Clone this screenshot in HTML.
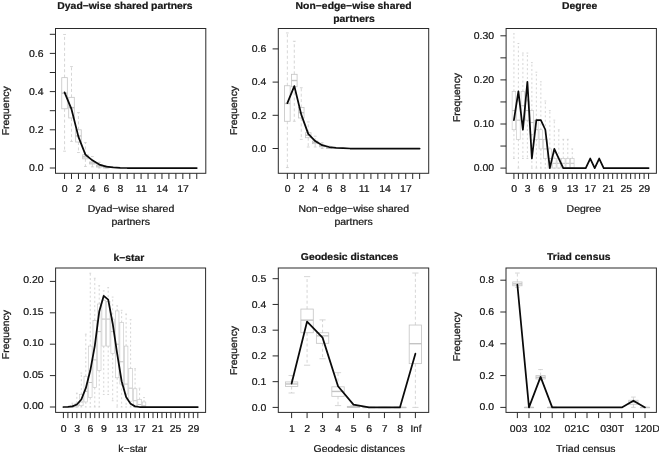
<!DOCTYPE html>
<html><head><meta charset="utf-8"><title>Goodness of fit</title>
<style>
html,body{margin:0;padding:0;background:#fff;}
svg{display:block;}
text{font-family:"Liberation Sans", Arial, Helvetica, sans-serif;fill:#1a1a1a;text-rendering:geometricPrecision;}
text.r{filter:none;stroke:#1a1a1a;stroke-width:0.3px;}
</style></head><body>
<svg width="659" height="455" viewBox="0 0 659 455">
<defs><filter id="w" x="0" y="0" width="100%" height="100%" color-interpolation-filters="sRGB"><feComponentTransfer><feFuncA type="gamma" exponent="0.6"/></feComponentTransfer></filter></defs>
<rect width="659" height="455" fill="#ffffff"/>
<line x1="64.55" y1="77.66" x2="64.55" y2="34.49" stroke="#c4c4c4" stroke-width="0.7" stroke-dasharray="3 2.4"/>
<line x1="64.55" y1="108.79" x2="64.55" y2="151.19" stroke="#c4c4c4" stroke-width="0.7" stroke-dasharray="3 2.4"/>
<line x1="63.15" y1="34.49" x2="65.94" y2="34.49" stroke="#c4c4c4" stroke-width="0.7" />
<line x1="63.15" y1="151.19" x2="65.94" y2="151.19" stroke="#c4c4c4" stroke-width="0.7" />
<rect x="61.76" y="77.66" width="5.57" height="31.13" fill="none" stroke="#c4c4c4" stroke-width="0.8"/>
<line x1="61.76" y1="93.22" x2="67.33" y2="93.22" stroke="#c4c4c4" stroke-width="1.4" />
<line x1="71.50" y1="97.33" x2="71.50" y2="66.58" stroke="#c4c4c4" stroke-width="0.7" stroke-dasharray="3 2.4"/>
<line x1="71.50" y1="117.96" x2="71.50" y2="141.45" stroke="#c4c4c4" stroke-width="0.7" stroke-dasharray="3 2.4"/>
<line x1="70.11" y1="66.58" x2="72.90" y2="66.58" stroke="#c4c4c4" stroke-width="0.7" />
<line x1="70.11" y1="141.45" x2="72.90" y2="141.45" stroke="#c4c4c4" stroke-width="0.7" />
<rect x="68.72" y="97.33" width="5.57" height="20.63" fill="none" stroke="#c4c4c4" stroke-width="0.8"/>
<line x1="68.72" y1="107.64" x2="74.29" y2="107.64" stroke="#c4c4c4" stroke-width="1.4" />
<line x1="78.46" y1="129.80" x2="78.46" y2="112.61" stroke="#c4c4c4" stroke-width="0.7" stroke-dasharray="3 2.4"/>
<line x1="78.46" y1="142.02" x2="78.46" y2="152.53" stroke="#c4c4c4" stroke-width="0.7" stroke-dasharray="3 2.4"/>
<line x1="77.07" y1="112.61" x2="79.85" y2="112.61" stroke="#c4c4c4" stroke-width="0.7" />
<line x1="77.07" y1="152.53" x2="79.85" y2="152.53" stroke="#c4c4c4" stroke-width="0.7" />
<rect x="75.68" y="129.80" width="5.57" height="12.22" fill="none" stroke="#c4c4c4" stroke-width="0.8"/>
<line x1="75.68" y1="135.91" x2="81.25" y2="135.91" stroke="#c4c4c4" stroke-width="1.4" />
<line x1="85.42" y1="154.82" x2="85.42" y2="142.60" stroke="#c4c4c4" stroke-width="0.7" stroke-dasharray="3 2.4"/>
<line x1="85.42" y1="158.83" x2="85.42" y2="166.47" stroke="#c4c4c4" stroke-width="0.7" stroke-dasharray="3 2.4"/>
<line x1="84.03" y1="142.60" x2="86.81" y2="142.60" stroke="#c4c4c4" stroke-width="0.7" />
<line x1="84.03" y1="166.47" x2="86.81" y2="166.47" stroke="#c4c4c4" stroke-width="0.7" />
<rect x="82.64" y="154.82" width="5.57" height="4.01" fill="none" stroke="#c4c4c4" stroke-width="0.8"/>
<line x1="82.64" y1="156.83" x2="88.20" y2="156.83" stroke="#c4c4c4" stroke-width="1.4" />
<line x1="92.38" y1="161.89" x2="92.38" y2="156.54" stroke="#c4c4c4" stroke-width="0.7" stroke-dasharray="3 2.4"/>
<line x1="92.38" y1="163.99" x2="92.38" y2="166.85" stroke="#c4c4c4" stroke-width="0.7" stroke-dasharray="3 2.4"/>
<line x1="90.99" y1="156.54" x2="93.77" y2="156.54" stroke="#c4c4c4" stroke-width="0.7" />
<line x1="90.99" y1="166.85" x2="93.77" y2="166.85" stroke="#c4c4c4" stroke-width="0.7" />
<rect x="89.60" y="161.89" width="5.57" height="2.10" fill="none" stroke="#c4c4c4" stroke-width="0.8"/>
<line x1="89.60" y1="162.94" x2="95.16" y2="162.94" stroke="#c4c4c4" stroke-width="1.4" />
<line x1="99.34" y1="164.94" x2="99.34" y2="162.27" stroke="#c4c4c4" stroke-width="0.7" stroke-dasharray="3 2.4"/>
<line x1="99.34" y1="167.04" x2="99.34" y2="168.00" stroke="#c4c4c4" stroke-width="0.7" stroke-dasharray="3 2.4"/>
<line x1="97.95" y1="162.27" x2="100.73" y2="162.27" stroke="#c4c4c4" stroke-width="0.7" />
<line x1="97.95" y1="168.00" x2="100.73" y2="168.00" stroke="#c4c4c4" stroke-width="0.7" />
<rect x="96.55" y="164.94" width="5.57" height="2.10" fill="none" stroke="#c4c4c4" stroke-width="0.8"/>
<line x1="96.55" y1="165.99" x2="102.12" y2="165.99" stroke="#c4c4c4" stroke-width="1.4" />
<line x1="106.30" y1="166.85" x2="106.30" y2="165.71" stroke="#c4c4c4" stroke-width="0.7" stroke-dasharray="3 2.4"/>
<line x1="106.30" y1="168.00" x2="106.30" y2="168.00" stroke="#c4c4c4" stroke-width="0.7" stroke-dasharray="3 2.4"/>
<line x1="104.90" y1="165.71" x2="107.69" y2="165.71" stroke="#c4c4c4" stroke-width="0.7" />
<line x1="104.90" y1="168.00" x2="107.69" y2="168.00" stroke="#c4c4c4" stroke-width="0.7" />
<rect x="103.51" y="166.85" width="5.57" height="1.15" fill="none" stroke="#c4c4c4" stroke-width="0.8"/>
<line x1="103.51" y1="167.43" x2="109.08" y2="167.43" stroke="#c4c4c4" stroke-width="1.4" />
<polyline points="64.55,92.36 71.50,109.17 78.46,136.87 85.42,154.63 92.38,160.36 99.34,164.56 106.30,166.66 113.25,167.43 120.21,167.81 127.17,168.00 134.13,168.00 141.09,168.00 148.05,168.00 155.00,168.00 161.96,168.00 168.92,168.00 175.88,168.00 182.84,168.00 189.80,168.00 196.75,168.00" fill="none" stroke="#0a0a0a" stroke-width="1.75" stroke-linejoin="round" stroke-linecap="round"/>
<rect x="55.50" y="28.50" width="150.30" height="144.80" fill="none" stroke="#2a2a2a" stroke-width="1"/>
<line x1="49.80" y1="168.00" x2="55.50" y2="168.00" stroke="#2a2a2a" stroke-width="1" />
<line x1="49.80" y1="148.90" x2="55.50" y2="148.90" stroke="#2a2a2a" stroke-width="1" />
<line x1="49.80" y1="129.80" x2="55.50" y2="129.80" stroke="#2a2a2a" stroke-width="1" />
<line x1="49.80" y1="110.70" x2="55.50" y2="110.70" stroke="#2a2a2a" stroke-width="1" />
<line x1="49.80" y1="91.60" x2="55.50" y2="91.60" stroke="#2a2a2a" stroke-width="1" />
<line x1="49.80" y1="72.50" x2="55.50" y2="72.50" stroke="#2a2a2a" stroke-width="1" />
<line x1="49.80" y1="53.40" x2="55.50" y2="53.40" stroke="#2a2a2a" stroke-width="1" />
<line x1="49.80" y1="34.30" x2="55.50" y2="34.30" stroke="#2a2a2a" stroke-width="1" />
<line x1="64.55" y1="173.30" x2="64.55" y2="179.00" stroke="#2a2a2a" stroke-width="1" />
<line x1="71.50" y1="173.30" x2="71.50" y2="179.00" stroke="#2a2a2a" stroke-width="1" />
<line x1="78.46" y1="173.30" x2="78.46" y2="179.00" stroke="#2a2a2a" stroke-width="1" />
<line x1="85.42" y1="173.30" x2="85.42" y2="179.00" stroke="#2a2a2a" stroke-width="1" />
<line x1="92.38" y1="173.30" x2="92.38" y2="179.00" stroke="#2a2a2a" stroke-width="1" />
<line x1="99.34" y1="173.30" x2="99.34" y2="179.00" stroke="#2a2a2a" stroke-width="1" />
<line x1="106.30" y1="173.30" x2="106.30" y2="179.00" stroke="#2a2a2a" stroke-width="1" />
<line x1="113.25" y1="173.30" x2="113.25" y2="179.00" stroke="#2a2a2a" stroke-width="1" />
<line x1="120.21" y1="173.30" x2="120.21" y2="179.00" stroke="#2a2a2a" stroke-width="1" />
<line x1="127.17" y1="173.30" x2="127.17" y2="179.00" stroke="#2a2a2a" stroke-width="1" />
<line x1="134.13" y1="173.30" x2="134.13" y2="179.00" stroke="#2a2a2a" stroke-width="1" />
<line x1="141.09" y1="173.30" x2="141.09" y2="179.00" stroke="#2a2a2a" stroke-width="1" />
<line x1="148.05" y1="173.30" x2="148.05" y2="179.00" stroke="#2a2a2a" stroke-width="1" />
<line x1="155.00" y1="173.30" x2="155.00" y2="179.00" stroke="#2a2a2a" stroke-width="1" />
<line x1="161.96" y1="173.30" x2="161.96" y2="179.00" stroke="#2a2a2a" stroke-width="1" />
<line x1="168.92" y1="173.30" x2="168.92" y2="179.00" stroke="#2a2a2a" stroke-width="1" />
<line x1="175.88" y1="173.30" x2="175.88" y2="179.00" stroke="#2a2a2a" stroke-width="1" />
<line x1="182.84" y1="173.30" x2="182.84" y2="179.00" stroke="#2a2a2a" stroke-width="1" />
<line x1="189.80" y1="173.30" x2="189.80" y2="179.00" stroke="#2a2a2a" stroke-width="1" />
<line x1="196.75" y1="173.30" x2="196.75" y2="179.00" stroke="#2a2a2a" stroke-width="1" />
<line x1="287.35" y1="85.75" x2="287.35" y2="32.96" stroke="#c4c4c4" stroke-width="0.7" stroke-dasharray="3 2.4"/>
<line x1="287.35" y1="121.28" x2="287.35" y2="167.59" stroke="#c4c4c4" stroke-width="0.7" stroke-dasharray="3 2.4"/>
<line x1="285.96" y1="32.96" x2="288.74" y2="32.96" stroke="#c4c4c4" stroke-width="0.7" />
<line x1="285.96" y1="167.59" x2="288.74" y2="167.59" stroke="#c4c4c4" stroke-width="0.7" />
<rect x="284.57" y="85.75" width="5.57" height="35.52" fill="none" stroke="#c4c4c4" stroke-width="0.8"/>
<line x1="284.57" y1="103.51" x2="290.14" y2="103.51" stroke="#c4c4c4" stroke-width="1.4" />
<line x1="294.31" y1="74.30" x2="294.31" y2="41.26" stroke="#c4c4c4" stroke-width="0.7" stroke-dasharray="3 2.4"/>
<line x1="294.31" y1="86.75" x2="294.31" y2="121.28" stroke="#c4c4c4" stroke-width="0.7" stroke-dasharray="3 2.4"/>
<line x1="292.92" y1="41.26" x2="295.71" y2="41.26" stroke="#c4c4c4" stroke-width="0.7" />
<line x1="292.92" y1="121.28" x2="295.71" y2="121.28" stroke="#c4c4c4" stroke-width="0.7" />
<rect x="291.53" y="74.30" width="5.57" height="12.45" fill="none" stroke="#c4c4c4" stroke-width="0.8"/>
<line x1="291.53" y1="80.52" x2="297.10" y2="80.52" stroke="#c4c4c4" stroke-width="1.4" />
<line x1="301.28" y1="107.50" x2="301.28" y2="87.74" stroke="#c4c4c4" stroke-width="0.7" stroke-dasharray="3 2.4"/>
<line x1="301.28" y1="117.96" x2="301.28" y2="139.37" stroke="#c4c4c4" stroke-width="0.7" stroke-dasharray="3 2.4"/>
<line x1="299.89" y1="87.74" x2="302.67" y2="87.74" stroke="#c4c4c4" stroke-width="0.7" />
<line x1="299.89" y1="139.37" x2="302.67" y2="139.37" stroke="#c4c4c4" stroke-width="0.7" />
<rect x="298.49" y="107.50" width="5.57" height="10.46" fill="none" stroke="#c4c4c4" stroke-width="0.8"/>
<line x1="298.49" y1="112.73" x2="304.06" y2="112.73" stroke="#c4c4c4" stroke-width="1.4" />
<line x1="308.24" y1="132.73" x2="308.24" y2="121.94" stroke="#c4c4c4" stroke-width="0.7" stroke-dasharray="3 2.4"/>
<line x1="308.24" y1="137.71" x2="308.24" y2="147.01" stroke="#c4c4c4" stroke-width="0.7" stroke-dasharray="3 2.4"/>
<line x1="306.85" y1="121.94" x2="309.63" y2="121.94" stroke="#c4c4c4" stroke-width="0.7" />
<line x1="306.85" y1="147.01" x2="309.63" y2="147.01" stroke="#c4c4c4" stroke-width="0.7" />
<rect x="305.46" y="132.73" width="5.57" height="4.98" fill="none" stroke="#c4c4c4" stroke-width="0.8"/>
<line x1="305.46" y1="135.22" x2="311.03" y2="135.22" stroke="#c4c4c4" stroke-width="1.4" />
<line x1="315.20" y1="141.03" x2="315.20" y2="136.22" stroke="#c4c4c4" stroke-width="0.7" stroke-dasharray="3 2.4"/>
<line x1="315.20" y1="143.69" x2="315.20" y2="147.01" stroke="#c4c4c4" stroke-width="0.7" stroke-dasharray="3 2.4"/>
<line x1="313.81" y1="136.22" x2="316.60" y2="136.22" stroke="#c4c4c4" stroke-width="0.7" />
<line x1="313.81" y1="147.01" x2="316.60" y2="147.01" stroke="#c4c4c4" stroke-width="0.7" />
<rect x="312.42" y="141.03" width="5.57" height="2.66" fill="none" stroke="#c4c4c4" stroke-width="0.8"/>
<line x1="312.42" y1="142.36" x2="317.99" y2="142.36" stroke="#c4c4c4" stroke-width="1.4" />
<line x1="322.17" y1="145.18" x2="322.17" y2="142.69" stroke="#c4c4c4" stroke-width="0.7" stroke-dasharray="3 2.4"/>
<line x1="322.17" y1="146.84" x2="322.17" y2="148.50" stroke="#c4c4c4" stroke-width="0.7" stroke-dasharray="3 2.4"/>
<line x1="320.77" y1="142.69" x2="323.56" y2="142.69" stroke="#c4c4c4" stroke-width="0.7" />
<line x1="320.77" y1="148.50" x2="323.56" y2="148.50" stroke="#c4c4c4" stroke-width="0.7" />
<rect x="319.38" y="145.18" width="5.57" height="1.66" fill="none" stroke="#c4c4c4" stroke-width="0.8"/>
<line x1="319.38" y1="146.01" x2="324.95" y2="146.01" stroke="#c4c4c4" stroke-width="1.4" />
<line x1="329.13" y1="147.17" x2="329.13" y2="146.01" stroke="#c4c4c4" stroke-width="0.7" stroke-dasharray="3 2.4"/>
<line x1="329.13" y1="148.50" x2="329.13" y2="148.50" stroke="#c4c4c4" stroke-width="0.7" stroke-dasharray="3 2.4"/>
<line x1="327.74" y1="146.01" x2="330.52" y2="146.01" stroke="#c4c4c4" stroke-width="0.7" />
<line x1="327.74" y1="148.50" x2="330.52" y2="148.50" stroke="#c4c4c4" stroke-width="0.7" />
<rect x="326.34" y="147.17" width="5.57" height="1.33" fill="none" stroke="#c4c4c4" stroke-width="0.8"/>
<line x1="326.34" y1="147.84" x2="331.91" y2="147.84" stroke="#c4c4c4" stroke-width="1.4" />
<polyline points="287.35,103.18 294.31,86.08 301.28,114.64 308.24,133.89 315.20,141.03 322.17,145.18 329.13,147.01 336.09,147.84 343.06,148.17 350.02,148.50 356.98,148.50 363.94,148.50 370.91,148.50 377.87,148.50 384.83,148.50 391.80,148.50 398.76,148.50 405.72,148.50 412.69,148.50 419.65,148.50" fill="none" stroke="#0a0a0a" stroke-width="1.75" stroke-linejoin="round" stroke-linecap="round"/>
<rect x="278.30" y="28.50" width="150.40" height="144.80" fill="none" stroke="#2a2a2a" stroke-width="1"/>
<line x1="272.60" y1="148.50" x2="278.30" y2="148.50" stroke="#2a2a2a" stroke-width="1" />
<line x1="272.60" y1="115.30" x2="278.30" y2="115.30" stroke="#2a2a2a" stroke-width="1" />
<line x1="272.60" y1="82.10" x2="278.30" y2="82.10" stroke="#2a2a2a" stroke-width="1" />
<line x1="272.60" y1="48.90" x2="278.30" y2="48.90" stroke="#2a2a2a" stroke-width="1" />
<line x1="287.35" y1="173.30" x2="287.35" y2="179.00" stroke="#2a2a2a" stroke-width="1" />
<line x1="294.31" y1="173.30" x2="294.31" y2="179.00" stroke="#2a2a2a" stroke-width="1" />
<line x1="301.28" y1="173.30" x2="301.28" y2="179.00" stroke="#2a2a2a" stroke-width="1" />
<line x1="308.24" y1="173.30" x2="308.24" y2="179.00" stroke="#2a2a2a" stroke-width="1" />
<line x1="315.20" y1="173.30" x2="315.20" y2="179.00" stroke="#2a2a2a" stroke-width="1" />
<line x1="322.17" y1="173.30" x2="322.17" y2="179.00" stroke="#2a2a2a" stroke-width="1" />
<line x1="329.13" y1="173.30" x2="329.13" y2="179.00" stroke="#2a2a2a" stroke-width="1" />
<line x1="336.09" y1="173.30" x2="336.09" y2="179.00" stroke="#2a2a2a" stroke-width="1" />
<line x1="343.06" y1="173.30" x2="343.06" y2="179.00" stroke="#2a2a2a" stroke-width="1" />
<line x1="350.02" y1="173.30" x2="350.02" y2="179.00" stroke="#2a2a2a" stroke-width="1" />
<line x1="356.98" y1="173.30" x2="356.98" y2="179.00" stroke="#2a2a2a" stroke-width="1" />
<line x1="363.94" y1="173.30" x2="363.94" y2="179.00" stroke="#2a2a2a" stroke-width="1" />
<line x1="370.91" y1="173.30" x2="370.91" y2="179.00" stroke="#2a2a2a" stroke-width="1" />
<line x1="377.87" y1="173.30" x2="377.87" y2="179.00" stroke="#2a2a2a" stroke-width="1" />
<line x1="384.83" y1="173.30" x2="384.83" y2="179.00" stroke="#2a2a2a" stroke-width="1" />
<line x1="391.80" y1="173.30" x2="391.80" y2="179.00" stroke="#2a2a2a" stroke-width="1" />
<line x1="398.76" y1="173.30" x2="398.76" y2="179.00" stroke="#2a2a2a" stroke-width="1" />
<line x1="405.72" y1="173.30" x2="405.72" y2="179.00" stroke="#2a2a2a" stroke-width="1" />
<line x1="412.69" y1="173.30" x2="412.69" y2="179.00" stroke="#2a2a2a" stroke-width="1" />
<line x1="419.65" y1="173.30" x2="419.65" y2="179.00" stroke="#2a2a2a" stroke-width="1" />
<line x1="513.91" y1="91.40" x2="513.91" y2="33.88" stroke="#c4c4c4" stroke-width="0.7" stroke-dasharray="2 2.4"/>
<line x1="513.91" y1="129.75" x2="513.91" y2="158.51" stroke="#c4c4c4" stroke-width="0.7" stroke-dasharray="2 2.4"/>
<line x1="513.01" y1="33.88" x2="514.81" y2="33.88" stroke="#c4c4c4" stroke-width="0.7" />
<line x1="513.01" y1="158.51" x2="514.81" y2="158.51" stroke="#c4c4c4" stroke-width="0.7" />
<rect x="512.12" y="91.40" width="3.59" height="38.35" fill="none" stroke="#c4c4c4" stroke-width="0.6"/>
<line x1="512.12" y1="110.58" x2="515.71" y2="110.58" stroke="#c4c4c4" stroke-width="1.0" />
<line x1="518.40" y1="100.99" x2="518.40" y2="43.47" stroke="#c4c4c4" stroke-width="0.7" stroke-dasharray="2 2.4"/>
<line x1="518.40" y1="139.34" x2="518.40" y2="168.10" stroke="#c4c4c4" stroke-width="0.7" stroke-dasharray="2 2.4"/>
<line x1="517.50" y1="43.47" x2="519.30" y2="43.47" stroke="#c4c4c4" stroke-width="0.7" />
<line x1="517.50" y1="168.10" x2="519.30" y2="168.10" stroke="#c4c4c4" stroke-width="0.7" />
<rect x="516.60" y="100.99" width="3.59" height="38.35" fill="none" stroke="#c4c4c4" stroke-width="0.6"/>
<line x1="516.60" y1="120.17" x2="520.20" y2="120.17" stroke="#c4c4c4" stroke-width="1.0" />
<line x1="522.89" y1="91.40" x2="522.89" y2="53.06" stroke="#c4c4c4" stroke-width="0.7" stroke-dasharray="2 2.4"/>
<line x1="522.89" y1="120.17" x2="522.89" y2="158.51" stroke="#c4c4c4" stroke-width="0.7" stroke-dasharray="2 2.4"/>
<line x1="521.99" y1="53.06" x2="523.79" y2="53.06" stroke="#c4c4c4" stroke-width="0.7" />
<line x1="521.99" y1="158.51" x2="523.79" y2="158.51" stroke="#c4c4c4" stroke-width="0.7" />
<rect x="521.09" y="91.40" width="3.59" height="28.76" fill="none" stroke="#c4c4c4" stroke-width="0.6"/>
<line x1="521.09" y1="105.78" x2="524.69" y2="105.78" stroke="#c4c4c4" stroke-width="1.0" />
<line x1="527.38" y1="100.99" x2="527.38" y2="53.06" stroke="#c4c4c4" stroke-width="0.7" stroke-dasharray="2 2.4"/>
<line x1="527.38" y1="120.17" x2="527.38" y2="158.51" stroke="#c4c4c4" stroke-width="0.7" stroke-dasharray="2 2.4"/>
<line x1="526.48" y1="53.06" x2="528.28" y2="53.06" stroke="#c4c4c4" stroke-width="0.7" />
<line x1="526.48" y1="158.51" x2="528.28" y2="158.51" stroke="#c4c4c4" stroke-width="0.7" />
<rect x="525.58" y="100.99" width="3.59" height="19.17" fill="none" stroke="#c4c4c4" stroke-width="0.6"/>
<line x1="525.58" y1="110.58" x2="529.17" y2="110.58" stroke="#c4c4c4" stroke-width="1.0" />
<line x1="531.87" y1="110.58" x2="531.87" y2="62.64" stroke="#c4c4c4" stroke-width="0.7" stroke-dasharray="2 2.4"/>
<line x1="531.87" y1="134.55" x2="531.87" y2="168.10" stroke="#c4c4c4" stroke-width="0.7" stroke-dasharray="2 2.4"/>
<line x1="530.97" y1="62.64" x2="532.77" y2="62.64" stroke="#c4c4c4" stroke-width="0.7" />
<line x1="530.97" y1="168.10" x2="532.77" y2="168.10" stroke="#c4c4c4" stroke-width="0.7" />
<rect x="530.07" y="110.58" width="3.59" height="23.97" fill="none" stroke="#c4c4c4" stroke-width="0.6"/>
<line x1="530.07" y1="122.56" x2="533.66" y2="122.56" stroke="#c4c4c4" stroke-width="1.0" />
<line x1="536.36" y1="120.17" x2="536.36" y2="72.23" stroke="#c4c4c4" stroke-width="0.7" stroke-dasharray="2 2.4"/>
<line x1="536.36" y1="139.34" x2="536.36" y2="168.10" stroke="#c4c4c4" stroke-width="0.7" stroke-dasharray="2 2.4"/>
<line x1="535.46" y1="72.23" x2="537.26" y2="72.23" stroke="#c4c4c4" stroke-width="0.7" />
<line x1="535.46" y1="168.10" x2="537.26" y2="168.10" stroke="#c4c4c4" stroke-width="0.7" />
<rect x="534.56" y="120.17" width="3.59" height="19.17" fill="none" stroke="#c4c4c4" stroke-width="0.6"/>
<line x1="534.56" y1="129.75" x2="538.15" y2="129.75" stroke="#c4c4c4" stroke-width="1.0" />
<line x1="540.85" y1="129.75" x2="540.85" y2="81.82" stroke="#c4c4c4" stroke-width="0.7" stroke-dasharray="2 2.4"/>
<line x1="540.85" y1="148.93" x2="540.85" y2="168.10" stroke="#c4c4c4" stroke-width="0.7" stroke-dasharray="2 2.4"/>
<line x1="539.95" y1="81.82" x2="541.74" y2="81.82" stroke="#c4c4c4" stroke-width="0.7" />
<line x1="539.95" y1="168.10" x2="541.74" y2="168.10" stroke="#c4c4c4" stroke-width="0.7" />
<rect x="539.05" y="129.75" width="3.59" height="19.17" fill="none" stroke="#c4c4c4" stroke-width="0.6"/>
<line x1="539.05" y1="139.34" x2="542.64" y2="139.34" stroke="#c4c4c4" stroke-width="1.0" />
<line x1="545.34" y1="139.34" x2="545.34" y2="100.99" stroke="#c4c4c4" stroke-width="0.7" stroke-dasharray="2 2.4"/>
<line x1="545.34" y1="158.51" x2="545.34" y2="168.10" stroke="#c4c4c4" stroke-width="0.7" stroke-dasharray="2 2.4"/>
<line x1="544.44" y1="100.99" x2="546.23" y2="100.99" stroke="#c4c4c4" stroke-width="0.7" />
<line x1="544.44" y1="168.10" x2="546.23" y2="168.10" stroke="#c4c4c4" stroke-width="0.7" />
<rect x="543.54" y="139.34" width="3.59" height="19.17" fill="none" stroke="#c4c4c4" stroke-width="0.6"/>
<line x1="543.54" y1="148.93" x2="547.13" y2="148.93" stroke="#c4c4c4" stroke-width="1.0" />
<line x1="549.83" y1="148.93" x2="549.83" y2="110.58" stroke="#c4c4c4" stroke-width="0.7" stroke-dasharray="2 2.4"/>
<line x1="549.83" y1="168.10" x2="549.83" y2="168.10" stroke="#c4c4c4" stroke-width="0.7" stroke-dasharray="2 2.4"/>
<line x1="548.93" y1="110.58" x2="550.72" y2="110.58" stroke="#c4c4c4" stroke-width="0.7" />
<line x1="548.93" y1="168.10" x2="550.72" y2="168.10" stroke="#c4c4c4" stroke-width="0.7" />
<rect x="548.03" y="148.93" width="3.59" height="19.17" fill="none" stroke="#c4c4c4" stroke-width="0.6"/>
<line x1="548.03" y1="158.51" x2="551.62" y2="158.51" stroke="#c4c4c4" stroke-width="1.0" />
<line x1="554.31" y1="158.51" x2="554.31" y2="120.17" stroke="#c4c4c4" stroke-width="0.7" stroke-dasharray="2 2.4"/>
<line x1="554.31" y1="168.10" x2="554.31" y2="168.10" stroke="#c4c4c4" stroke-width="0.7" stroke-dasharray="2 2.4"/>
<line x1="553.42" y1="120.17" x2="555.21" y2="120.17" stroke="#c4c4c4" stroke-width="0.7" />
<line x1="553.42" y1="168.10" x2="555.21" y2="168.10" stroke="#c4c4c4" stroke-width="0.7" />
<rect x="552.52" y="158.51" width="3.59" height="9.59" fill="none" stroke="#c4c4c4" stroke-width="0.6"/>
<line x1="552.52" y1="163.31" x2="556.11" y2="163.31" stroke="#c4c4c4" stroke-width="1.0" />
<line x1="558.80" y1="158.51" x2="558.80" y2="129.75" stroke="#c4c4c4" stroke-width="0.7" stroke-dasharray="2 2.4"/>
<line x1="558.80" y1="168.10" x2="558.80" y2="168.10" stroke="#c4c4c4" stroke-width="0.7" stroke-dasharray="2 2.4"/>
<line x1="557.91" y1="129.75" x2="559.70" y2="129.75" stroke="#c4c4c4" stroke-width="0.7" />
<line x1="557.91" y1="168.10" x2="559.70" y2="168.10" stroke="#c4c4c4" stroke-width="0.7" />
<rect x="557.01" y="158.51" width="3.59" height="9.59" fill="none" stroke="#c4c4c4" stroke-width="0.6"/>
<line x1="557.01" y1="163.31" x2="560.60" y2="163.31" stroke="#c4c4c4" stroke-width="1.0" />
<line x1="563.29" y1="158.51" x2="563.29" y2="139.34" stroke="#c4c4c4" stroke-width="0.7" stroke-dasharray="2 2.4"/>
<line x1="563.29" y1="168.10" x2="563.29" y2="168.10" stroke="#c4c4c4" stroke-width="0.7" stroke-dasharray="2 2.4"/>
<line x1="562.40" y1="139.34" x2="564.19" y2="139.34" stroke="#c4c4c4" stroke-width="0.7" />
<line x1="562.40" y1="168.10" x2="564.19" y2="168.10" stroke="#c4c4c4" stroke-width="0.7" />
<rect x="561.50" y="158.51" width="3.59" height="9.59" fill="none" stroke="#c4c4c4" stroke-width="0.6"/>
<line x1="561.50" y1="163.31" x2="565.09" y2="163.31" stroke="#c4c4c4" stroke-width="1.0" />
<line x1="567.78" y1="158.51" x2="567.78" y2="139.34" stroke="#c4c4c4" stroke-width="0.7" stroke-dasharray="2 2.4"/>
<line x1="567.78" y1="168.10" x2="567.78" y2="168.10" stroke="#c4c4c4" stroke-width="0.7" stroke-dasharray="2 2.4"/>
<line x1="566.88" y1="139.34" x2="568.68" y2="139.34" stroke="#c4c4c4" stroke-width="0.7" />
<line x1="566.88" y1="168.10" x2="568.68" y2="168.10" stroke="#c4c4c4" stroke-width="0.7" />
<rect x="565.99" y="158.51" width="3.59" height="9.59" fill="none" stroke="#c4c4c4" stroke-width="0.6"/>
<line x1="565.99" y1="163.31" x2="569.58" y2="163.31" stroke="#c4c4c4" stroke-width="1.0" />
<line x1="572.27" y1="158.51" x2="572.27" y2="148.93" stroke="#c4c4c4" stroke-width="0.7" stroke-dasharray="2 2.4"/>
<line x1="572.27" y1="168.10" x2="572.27" y2="168.10" stroke="#c4c4c4" stroke-width="0.7" stroke-dasharray="2 2.4"/>
<line x1="571.37" y1="148.93" x2="573.17" y2="148.93" stroke="#c4c4c4" stroke-width="0.7" />
<line x1="571.37" y1="168.10" x2="573.17" y2="168.10" stroke="#c4c4c4" stroke-width="0.7" />
<rect x="570.48" y="158.51" width="3.59" height="9.59" fill="none" stroke="#c4c4c4" stroke-width="0.6"/>
<line x1="570.48" y1="163.31" x2="574.07" y2="163.31" stroke="#c4c4c4" stroke-width="1.0" />
<polyline points="513.91,120.17 518.40,91.40 522.89,129.75 527.38,81.82 531.87,158.51 536.36,120.17 540.85,120.17 545.34,129.75 549.83,168.10 554.31,148.93 558.80,158.51 563.29,168.10 567.78,168.10 572.27,168.10 576.76,168.10 581.25,168.10 585.74,168.10 590.23,158.51 594.72,168.10 599.21,158.51 603.70,168.10 608.19,168.10 612.67,168.10 617.16,168.10 621.65,168.10 626.14,168.10 630.63,168.10 635.12,168.10 639.61,168.10 644.10,168.10 648.59,168.10" fill="none" stroke="#0a0a0a" stroke-width="1.75" stroke-linejoin="round" stroke-linecap="round"/>
<rect x="506.10" y="28.50" width="150.30" height="144.80" fill="none" stroke="#2a2a2a" stroke-width="1"/>
<line x1="500.40" y1="168.10" x2="506.10" y2="168.10" stroke="#2a2a2a" stroke-width="1" />
<line x1="500.40" y1="146.05" x2="506.10" y2="146.05" stroke="#2a2a2a" stroke-width="1" />
<line x1="500.40" y1="124.00" x2="506.10" y2="124.00" stroke="#2a2a2a" stroke-width="1" />
<line x1="500.40" y1="101.95" x2="506.10" y2="101.95" stroke="#2a2a2a" stroke-width="1" />
<line x1="500.40" y1="79.90" x2="506.10" y2="79.90" stroke="#2a2a2a" stroke-width="1" />
<line x1="500.40" y1="57.85" x2="506.10" y2="57.85" stroke="#2a2a2a" stroke-width="1" />
<line x1="500.40" y1="35.80" x2="506.10" y2="35.80" stroke="#2a2a2a" stroke-width="1" />
<line x1="513.91" y1="173.30" x2="513.91" y2="179.00" stroke="#2a2a2a" stroke-width="1" />
<line x1="518.40" y1="173.30" x2="518.40" y2="179.00" stroke="#2a2a2a" stroke-width="1" />
<line x1="522.89" y1="173.30" x2="522.89" y2="179.00" stroke="#2a2a2a" stroke-width="1" />
<line x1="527.38" y1="173.30" x2="527.38" y2="179.00" stroke="#2a2a2a" stroke-width="1" />
<line x1="531.87" y1="173.30" x2="531.87" y2="179.00" stroke="#2a2a2a" stroke-width="1" />
<line x1="536.36" y1="173.30" x2="536.36" y2="179.00" stroke="#2a2a2a" stroke-width="1" />
<line x1="540.85" y1="173.30" x2="540.85" y2="179.00" stroke="#2a2a2a" stroke-width="1" />
<line x1="545.34" y1="173.30" x2="545.34" y2="179.00" stroke="#2a2a2a" stroke-width="1" />
<line x1="549.83" y1="173.30" x2="549.83" y2="179.00" stroke="#2a2a2a" stroke-width="1" />
<line x1="554.31" y1="173.30" x2="554.31" y2="179.00" stroke="#2a2a2a" stroke-width="1" />
<line x1="558.80" y1="173.30" x2="558.80" y2="179.00" stroke="#2a2a2a" stroke-width="1" />
<line x1="563.29" y1="173.30" x2="563.29" y2="179.00" stroke="#2a2a2a" stroke-width="1" />
<line x1="567.78" y1="173.30" x2="567.78" y2="179.00" stroke="#2a2a2a" stroke-width="1" />
<line x1="572.27" y1="173.30" x2="572.27" y2="179.00" stroke="#2a2a2a" stroke-width="1" />
<line x1="576.76" y1="173.30" x2="576.76" y2="179.00" stroke="#2a2a2a" stroke-width="1" />
<line x1="581.25" y1="173.30" x2="581.25" y2="179.00" stroke="#2a2a2a" stroke-width="1" />
<line x1="585.74" y1="173.30" x2="585.74" y2="179.00" stroke="#2a2a2a" stroke-width="1" />
<line x1="590.23" y1="173.30" x2="590.23" y2="179.00" stroke="#2a2a2a" stroke-width="1" />
<line x1="594.72" y1="173.30" x2="594.72" y2="179.00" stroke="#2a2a2a" stroke-width="1" />
<line x1="599.21" y1="173.30" x2="599.21" y2="179.00" stroke="#2a2a2a" stroke-width="1" />
<line x1="603.70" y1="173.30" x2="603.70" y2="179.00" stroke="#2a2a2a" stroke-width="1" />
<line x1="608.19" y1="173.30" x2="608.19" y2="179.00" stroke="#2a2a2a" stroke-width="1" />
<line x1="612.67" y1="173.30" x2="612.67" y2="179.00" stroke="#2a2a2a" stroke-width="1" />
<line x1="617.16" y1="173.30" x2="617.16" y2="179.00" stroke="#2a2a2a" stroke-width="1" />
<line x1="621.65" y1="173.30" x2="621.65" y2="179.00" stroke="#2a2a2a" stroke-width="1" />
<line x1="626.14" y1="173.30" x2="626.14" y2="179.00" stroke="#2a2a2a" stroke-width="1" />
<line x1="630.63" y1="173.30" x2="630.63" y2="179.00" stroke="#2a2a2a" stroke-width="1" />
<line x1="635.12" y1="173.30" x2="635.12" y2="179.00" stroke="#2a2a2a" stroke-width="1" />
<line x1="639.61" y1="173.30" x2="639.61" y2="179.00" stroke="#2a2a2a" stroke-width="1" />
<line x1="644.10" y1="173.30" x2="644.10" y2="179.00" stroke="#2a2a2a" stroke-width="1" />
<line x1="648.59" y1="173.30" x2="648.59" y2="179.00" stroke="#2a2a2a" stroke-width="1" />
<line x1="72.36" y1="405.74" x2="72.36" y2="403.23" stroke="#c4c4c4" stroke-width="0.7" stroke-dasharray="2 2.4"/>
<line x1="72.36" y1="407.00" x2="72.36" y2="407.00" stroke="#c4c4c4" stroke-width="0.7" stroke-dasharray="2 2.4"/>
<line x1="71.46" y1="403.23" x2="73.25" y2="403.23" stroke="#c4c4c4" stroke-width="0.7" />
<line x1="71.46" y1="407.00" x2="73.25" y2="407.00" stroke="#c4c4c4" stroke-width="0.7" />
<rect x="70.56" y="405.74" width="3.58" height="1.26" fill="none" stroke="#c4c4c4" stroke-width="0.6"/>
<line x1="70.56" y1="407.00" x2="74.15" y2="407.00" stroke="#c4c4c4" stroke-width="1.0" />
<line x1="76.84" y1="403.23" x2="76.84" y2="393.18" stroke="#c4c4c4" stroke-width="0.7" stroke-dasharray="2 2.4"/>
<line x1="76.84" y1="407.00" x2="76.84" y2="407.00" stroke="#c4c4c4" stroke-width="0.7" stroke-dasharray="2 2.4"/>
<line x1="75.94" y1="393.18" x2="77.73" y2="393.18" stroke="#c4c4c4" stroke-width="0.7" />
<line x1="75.94" y1="407.00" x2="77.73" y2="407.00" stroke="#c4c4c4" stroke-width="0.7" />
<rect x="75.04" y="403.23" width="3.58" height="3.77" fill="none" stroke="#c4c4c4" stroke-width="0.6"/>
<line x1="75.04" y1="405.74" x2="78.63" y2="405.74" stroke="#c4c4c4" stroke-width="1.0" />
<line x1="81.32" y1="394.44" x2="81.32" y2="373.09" stroke="#c4c4c4" stroke-width="0.7" stroke-dasharray="2 2.4"/>
<line x1="81.32" y1="405.74" x2="81.32" y2="407.00" stroke="#c4c4c4" stroke-width="0.7" stroke-dasharray="2 2.4"/>
<line x1="80.42" y1="373.09" x2="82.21" y2="373.09" stroke="#c4c4c4" stroke-width="0.7" />
<line x1="80.42" y1="407.00" x2="82.21" y2="407.00" stroke="#c4c4c4" stroke-width="0.7" />
<rect x="79.52" y="394.44" width="3.58" height="11.30" fill="none" stroke="#c4c4c4" stroke-width="0.6"/>
<line x1="79.52" y1="401.98" x2="83.11" y2="401.98" stroke="#c4c4c4" stroke-width="1.0" />
<line x1="85.80" y1="376.23" x2="85.80" y2="334.15" stroke="#c4c4c4" stroke-width="0.7" stroke-dasharray="2 2.4"/>
<line x1="85.80" y1="401.98" x2="85.80" y2="407.00" stroke="#c4c4c4" stroke-width="0.7" stroke-dasharray="2 2.4"/>
<line x1="84.90" y1="334.15" x2="86.69" y2="334.15" stroke="#c4c4c4" stroke-width="0.7" />
<line x1="84.90" y1="407.00" x2="86.69" y2="407.00" stroke="#c4c4c4" stroke-width="0.7" />
<rect x="84.01" y="376.23" width="3.58" height="25.75" fill="none" stroke="#c4c4c4" stroke-width="0.6"/>
<line x1="84.01" y1="391.30" x2="87.59" y2="391.30" stroke="#c4c4c4" stroke-width="1.0" />
<line x1="90.28" y1="346.08" x2="90.28" y2="273.24" stroke="#c4c4c4" stroke-width="0.7" stroke-dasharray="2 2.4"/>
<line x1="90.28" y1="397.58" x2="90.28" y2="407.00" stroke="#c4c4c4" stroke-width="0.7" stroke-dasharray="2 2.4"/>
<line x1="89.38" y1="273.24" x2="91.17" y2="273.24" stroke="#c4c4c4" stroke-width="0.7" />
<line x1="89.38" y1="407.00" x2="91.17" y2="407.00" stroke="#c4c4c4" stroke-width="0.7" />
<rect x="88.49" y="346.08" width="3.58" height="51.50" fill="none" stroke="#c4c4c4" stroke-width="0.6"/>
<line x1="88.49" y1="382.51" x2="92.07" y2="382.51" stroke="#c4c4c4" stroke-width="1.0" />
<line x1="94.76" y1="320.34" x2="94.76" y2="278.26" stroke="#c4c4c4" stroke-width="0.7" stroke-dasharray="2 2.4"/>
<line x1="94.76" y1="387.53" x2="94.76" y2="407.00" stroke="#c4c4c4" stroke-width="0.7" stroke-dasharray="2 2.4"/>
<line x1="93.86" y1="278.26" x2="95.65" y2="278.26" stroke="#c4c4c4" stroke-width="0.7" />
<line x1="93.86" y1="407.00" x2="95.65" y2="407.00" stroke="#c4c4c4" stroke-width="0.7" />
<rect x="92.97" y="320.34" width="3.58" height="67.20" fill="none" stroke="#c4c4c4" stroke-width="0.6"/>
<line x1="92.97" y1="359.90" x2="96.55" y2="359.90" stroke="#c4c4c4" stroke-width="1.0" />
<line x1="99.24" y1="304.01" x2="99.24" y2="285.80" stroke="#c4c4c4" stroke-width="0.7" stroke-dasharray="2 2.4"/>
<line x1="99.24" y1="370.58" x2="99.24" y2="407.00" stroke="#c4c4c4" stroke-width="0.7" stroke-dasharray="2 2.4"/>
<line x1="98.34" y1="285.80" x2="100.13" y2="285.80" stroke="#c4c4c4" stroke-width="0.7" />
<line x1="98.34" y1="407.00" x2="100.13" y2="407.00" stroke="#c4c4c4" stroke-width="0.7" />
<rect x="97.45" y="304.01" width="3.58" height="66.57" fill="none" stroke="#c4c4c4" stroke-width="0.6"/>
<line x1="97.45" y1="331.64" x2="101.03" y2="331.64" stroke="#c4c4c4" stroke-width="1.0" />
<line x1="103.72" y1="300.24" x2="103.72" y2="290.82" stroke="#c4c4c4" stroke-width="0.7" stroke-dasharray="2 2.4"/>
<line x1="103.72" y1="346.08" x2="103.72" y2="394.44" stroke="#c4c4c4" stroke-width="0.7" stroke-dasharray="2 2.4"/>
<line x1="102.82" y1="290.82" x2="104.61" y2="290.82" stroke="#c4c4c4" stroke-width="0.7" />
<line x1="102.82" y1="394.44" x2="104.61" y2="394.44" stroke="#c4c4c4" stroke-width="0.7" />
<rect x="101.93" y="300.24" width="3.58" height="45.84" fill="none" stroke="#c4c4c4" stroke-width="0.6"/>
<line x1="101.93" y1="319.08" x2="105.51" y2="319.08" stroke="#c4c4c4" stroke-width="1.0" />
<line x1="108.20" y1="301.50" x2="108.20" y2="287.68" stroke="#c4c4c4" stroke-width="0.7" stroke-dasharray="2 2.4"/>
<line x1="108.20" y1="346.08" x2="108.20" y2="394.44" stroke="#c4c4c4" stroke-width="0.7" stroke-dasharray="2 2.4"/>
<line x1="107.30" y1="287.68" x2="109.09" y2="287.68" stroke="#c4c4c4" stroke-width="0.7" />
<line x1="107.30" y1="394.44" x2="109.09" y2="394.44" stroke="#c4c4c4" stroke-width="0.7" />
<rect x="106.41" y="301.50" width="3.58" height="44.59" fill="none" stroke="#c4c4c4" stroke-width="0.6"/>
<line x1="106.41" y1="319.08" x2="109.99" y2="319.08" stroke="#c4c4c4" stroke-width="1.0" />
<line x1="112.68" y1="319.08" x2="112.68" y2="297.10" stroke="#c4c4c4" stroke-width="0.7" stroke-dasharray="2 2.4"/>
<line x1="112.68" y1="353.62" x2="112.68" y2="400.72" stroke="#c4c4c4" stroke-width="0.7" stroke-dasharray="2 2.4"/>
<line x1="111.78" y1="297.10" x2="113.57" y2="297.10" stroke="#c4c4c4" stroke-width="0.7" />
<line x1="111.78" y1="400.72" x2="113.57" y2="400.72" stroke="#c4c4c4" stroke-width="0.7" />
<rect x="110.89" y="319.08" width="3.58" height="34.54" fill="none" stroke="#c4c4c4" stroke-width="0.6"/>
<line x1="110.89" y1="331.64" x2="114.47" y2="331.64" stroke="#c4c4c4" stroke-width="1.0" />
<line x1="117.16" y1="310.92" x2="117.16" y2="305.89" stroke="#c4c4c4" stroke-width="0.7" stroke-dasharray="2 2.4"/>
<line x1="117.16" y1="377.80" x2="117.16" y2="407.00" stroke="#c4c4c4" stroke-width="0.7" stroke-dasharray="2 2.4"/>
<line x1="116.26" y1="305.89" x2="118.06" y2="305.89" stroke="#c4c4c4" stroke-width="0.7" />
<line x1="116.26" y1="407.00" x2="118.06" y2="407.00" stroke="#c4c4c4" stroke-width="0.7" />
<rect x="115.37" y="310.92" width="3.58" height="66.88" fill="none" stroke="#c4c4c4" stroke-width="0.6"/>
<line x1="115.37" y1="344.20" x2="118.95" y2="344.20" stroke="#c4c4c4" stroke-width="1.0" />
<line x1="121.64" y1="322.53" x2="121.64" y2="310.29" stroke="#c4c4c4" stroke-width="0.7" stroke-dasharray="2 2.4"/>
<line x1="121.64" y1="384.08" x2="121.64" y2="407.00" stroke="#c4c4c4" stroke-width="0.7" stroke-dasharray="2 2.4"/>
<line x1="120.74" y1="310.29" x2="122.54" y2="310.29" stroke="#c4c4c4" stroke-width="0.7" />
<line x1="120.74" y1="407.00" x2="122.54" y2="407.00" stroke="#c4c4c4" stroke-width="0.7" />
<rect x="119.85" y="322.53" width="3.58" height="61.54" fill="none" stroke="#c4c4c4" stroke-width="0.6"/>
<line x1="119.85" y1="361.78" x2="123.43" y2="361.78" stroke="#c4c4c4" stroke-width="1.0" />
<line x1="126.12" y1="346.08" x2="126.12" y2="314.06" stroke="#c4c4c4" stroke-width="0.7" stroke-dasharray="2 2.4"/>
<line x1="126.12" y1="394.00" x2="126.12" y2="407.00" stroke="#c4c4c4" stroke-width="0.7" stroke-dasharray="2 2.4"/>
<line x1="125.22" y1="314.06" x2="127.02" y2="314.06" stroke="#c4c4c4" stroke-width="0.7" />
<line x1="125.22" y1="407.00" x2="127.02" y2="407.00" stroke="#c4c4c4" stroke-width="0.7" />
<rect x="124.33" y="346.08" width="3.58" height="47.92" fill="none" stroke="#c4c4c4" stroke-width="0.6"/>
<line x1="124.33" y1="384.08" x2="127.91" y2="384.08" stroke="#c4c4c4" stroke-width="1.0" />
<line x1="130.60" y1="368.69" x2="130.60" y2="319.71" stroke="#c4c4c4" stroke-width="0.7" stroke-dasharray="2 2.4"/>
<line x1="130.60" y1="401.16" x2="130.60" y2="407.00" stroke="#c4c4c4" stroke-width="0.7" stroke-dasharray="2 2.4"/>
<line x1="129.70" y1="319.71" x2="131.50" y2="319.71" stroke="#c4c4c4" stroke-width="0.7" />
<line x1="129.70" y1="407.00" x2="131.50" y2="407.00" stroke="#c4c4c4" stroke-width="0.7" />
<rect x="128.81" y="368.69" width="3.58" height="32.47" fill="none" stroke="#c4c4c4" stroke-width="0.6"/>
<line x1="128.81" y1="388.16" x2="132.39" y2="388.16" stroke="#c4c4c4" stroke-width="1.0" />
<line x1="135.08" y1="388.79" x2="135.08" y2="368.69" stroke="#c4c4c4" stroke-width="0.7" stroke-dasharray="2 2.4"/>
<line x1="135.08" y1="407.00" x2="135.08" y2="407.00" stroke="#c4c4c4" stroke-width="0.7" stroke-dasharray="2 2.4"/>
<line x1="134.18" y1="368.69" x2="135.98" y2="368.69" stroke="#c4c4c4" stroke-width="0.7" />
<line x1="134.18" y1="407.00" x2="135.98" y2="407.00" stroke="#c4c4c4" stroke-width="0.7" />
<rect x="133.29" y="388.79" width="3.58" height="18.21" fill="none" stroke="#c4c4c4" stroke-width="0.6"/>
<line x1="133.29" y1="400.72" x2="136.87" y2="400.72" stroke="#c4c4c4" stroke-width="1.0" />
<line x1="139.56" y1="399.46" x2="139.56" y2="388.16" stroke="#c4c4c4" stroke-width="0.7" stroke-dasharray="2 2.4"/>
<line x1="139.56" y1="407.00" x2="139.56" y2="407.00" stroke="#c4c4c4" stroke-width="0.7" stroke-dasharray="2 2.4"/>
<line x1="138.66" y1="388.16" x2="140.46" y2="388.16" stroke="#c4c4c4" stroke-width="0.7" />
<line x1="138.66" y1="407.00" x2="140.46" y2="407.00" stroke="#c4c4c4" stroke-width="0.7" />
<rect x="137.77" y="399.46" width="3.58" height="7.54" fill="none" stroke="#c4c4c4" stroke-width="0.6"/>
<line x1="137.77" y1="404.49" x2="141.35" y2="404.49" stroke="#c4c4c4" stroke-width="1.0" />
<line x1="144.04" y1="401.98" x2="144.04" y2="397.58" stroke="#c4c4c4" stroke-width="0.7" stroke-dasharray="2 2.4"/>
<line x1="144.04" y1="407.00" x2="144.04" y2="407.00" stroke="#c4c4c4" stroke-width="0.7" stroke-dasharray="2 2.4"/>
<line x1="143.14" y1="397.58" x2="144.94" y2="397.58" stroke="#c4c4c4" stroke-width="0.7" />
<line x1="143.14" y1="407.00" x2="144.94" y2="407.00" stroke="#c4c4c4" stroke-width="0.7" />
<rect x="142.25" y="401.98" width="3.58" height="5.02" fill="none" stroke="#c4c4c4" stroke-width="0.6"/>
<line x1="142.25" y1="405.74" x2="145.83" y2="405.74" stroke="#c4c4c4" stroke-width="1.0" />
<polyline points="63.40,407.00 67.88,406.81 72.36,406.37 76.84,404.49 81.32,399.46 85.80,388.16 90.28,370.58 94.76,346.08 99.24,311.54 103.72,295.84 108.20,299.61 112.68,323.48 117.16,353.62 121.64,381.25 126.12,396.95 130.60,403.86 135.08,406.37 139.56,407.00 144.04,407.00 148.52,407.00 153.00,407.00 157.48,407.00 161.96,407.00 166.44,407.00 170.92,407.00 175.40,407.00 179.88,407.00 184.36,407.00 188.84,407.00 193.32,407.00 197.80,407.00" fill="none" stroke="#0a0a0a" stroke-width="1.75" stroke-linejoin="round" stroke-linecap="round"/>
<rect x="55.60" y="268.00" width="150.00" height="144.40" fill="none" stroke="#2a2a2a" stroke-width="1"/>
<line x1="49.90" y1="407.00" x2="55.60" y2="407.00" stroke="#2a2a2a" stroke-width="1" />
<line x1="49.90" y1="375.60" x2="55.60" y2="375.60" stroke="#2a2a2a" stroke-width="1" />
<line x1="49.90" y1="344.20" x2="55.60" y2="344.20" stroke="#2a2a2a" stroke-width="1" />
<line x1="49.90" y1="312.80" x2="55.60" y2="312.80" stroke="#2a2a2a" stroke-width="1" />
<line x1="49.90" y1="281.40" x2="55.60" y2="281.40" stroke="#2a2a2a" stroke-width="1" />
<line x1="63.40" y1="412.40" x2="63.40" y2="418.10" stroke="#2a2a2a" stroke-width="1" />
<line x1="67.88" y1="412.40" x2="67.88" y2="418.10" stroke="#2a2a2a" stroke-width="1" />
<line x1="72.36" y1="412.40" x2="72.36" y2="418.10" stroke="#2a2a2a" stroke-width="1" />
<line x1="76.84" y1="412.40" x2="76.84" y2="418.10" stroke="#2a2a2a" stroke-width="1" />
<line x1="81.32" y1="412.40" x2="81.32" y2="418.10" stroke="#2a2a2a" stroke-width="1" />
<line x1="85.80" y1="412.40" x2="85.80" y2="418.10" stroke="#2a2a2a" stroke-width="1" />
<line x1="90.28" y1="412.40" x2="90.28" y2="418.10" stroke="#2a2a2a" stroke-width="1" />
<line x1="94.76" y1="412.40" x2="94.76" y2="418.10" stroke="#2a2a2a" stroke-width="1" />
<line x1="99.24" y1="412.40" x2="99.24" y2="418.10" stroke="#2a2a2a" stroke-width="1" />
<line x1="103.72" y1="412.40" x2="103.72" y2="418.10" stroke="#2a2a2a" stroke-width="1" />
<line x1="108.20" y1="412.40" x2="108.20" y2="418.10" stroke="#2a2a2a" stroke-width="1" />
<line x1="112.68" y1="412.40" x2="112.68" y2="418.10" stroke="#2a2a2a" stroke-width="1" />
<line x1="117.16" y1="412.40" x2="117.16" y2="418.10" stroke="#2a2a2a" stroke-width="1" />
<line x1="121.64" y1="412.40" x2="121.64" y2="418.10" stroke="#2a2a2a" stroke-width="1" />
<line x1="126.12" y1="412.40" x2="126.12" y2="418.10" stroke="#2a2a2a" stroke-width="1" />
<line x1="130.60" y1="412.40" x2="130.60" y2="418.10" stroke="#2a2a2a" stroke-width="1" />
<line x1="135.08" y1="412.40" x2="135.08" y2="418.10" stroke="#2a2a2a" stroke-width="1" />
<line x1="139.56" y1="412.40" x2="139.56" y2="418.10" stroke="#2a2a2a" stroke-width="1" />
<line x1="144.04" y1="412.40" x2="144.04" y2="418.10" stroke="#2a2a2a" stroke-width="1" />
<line x1="148.52" y1="412.40" x2="148.52" y2="418.10" stroke="#2a2a2a" stroke-width="1" />
<line x1="153.00" y1="412.40" x2="153.00" y2="418.10" stroke="#2a2a2a" stroke-width="1" />
<line x1="157.48" y1="412.40" x2="157.48" y2="418.10" stroke="#2a2a2a" stroke-width="1" />
<line x1="161.96" y1="412.40" x2="161.96" y2="418.10" stroke="#2a2a2a" stroke-width="1" />
<line x1="166.44" y1="412.40" x2="166.44" y2="418.10" stroke="#2a2a2a" stroke-width="1" />
<line x1="170.92" y1="412.40" x2="170.92" y2="418.10" stroke="#2a2a2a" stroke-width="1" />
<line x1="175.40" y1="412.40" x2="175.40" y2="418.10" stroke="#2a2a2a" stroke-width="1" />
<line x1="179.88" y1="412.40" x2="179.88" y2="418.10" stroke="#2a2a2a" stroke-width="1" />
<line x1="184.36" y1="412.40" x2="184.36" y2="418.10" stroke="#2a2a2a" stroke-width="1" />
<line x1="188.84" y1="412.40" x2="188.84" y2="418.10" stroke="#2a2a2a" stroke-width="1" />
<line x1="193.32" y1="412.40" x2="193.32" y2="418.10" stroke="#2a2a2a" stroke-width="1" />
<line x1="197.80" y1="412.40" x2="197.80" y2="418.10" stroke="#2a2a2a" stroke-width="1" />
<line x1="291.61" y1="381.92" x2="291.61" y2="375.48" stroke="#c4c4c4" stroke-width="0.7" stroke-dasharray="3 2.4"/>
<line x1="291.61" y1="386.55" x2="291.61" y2="392.99" stroke="#c4c4c4" stroke-width="0.7" stroke-dasharray="3 2.4"/>
<line x1="288.51" y1="375.48" x2="294.70" y2="375.48" stroke="#c4c4c4" stroke-width="0.7" />
<line x1="288.51" y1="392.99" x2="294.70" y2="392.99" stroke="#c4c4c4" stroke-width="0.7" />
<rect x="285.42" y="381.92" width="12.38" height="4.63" fill="none" stroke="#c4c4c4" stroke-width="0.8"/>
<line x1="285.42" y1="383.98" x2="297.80" y2="383.98" stroke="#c4c4c4" stroke-width="1.4" />
<line x1="307.08" y1="309.07" x2="307.08" y2="276.64" stroke="#c4c4c4" stroke-width="0.7" stroke-dasharray="3 2.4"/>
<line x1="307.08" y1="332.75" x2="307.08" y2="365.19" stroke="#c4c4c4" stroke-width="0.7" stroke-dasharray="3 2.4"/>
<line x1="303.99" y1="276.64" x2="310.17" y2="276.64" stroke="#c4c4c4" stroke-width="0.7" />
<line x1="303.99" y1="365.19" x2="310.17" y2="365.19" stroke="#c4c4c4" stroke-width="0.7" />
<rect x="300.89" y="309.07" width="12.38" height="23.68" fill="none" stroke="#c4c4c4" stroke-width="0.8"/>
<line x1="300.89" y1="320.14" x2="313.27" y2="320.14" stroke="#c4c4c4" stroke-width="1.4" />
<line x1="322.55" y1="332.75" x2="322.55" y2="319.88" stroke="#c4c4c4" stroke-width="0.7" stroke-dasharray="3 2.4"/>
<line x1="322.55" y1="343.31" x2="322.55" y2="358.75" stroke="#c4c4c4" stroke-width="0.7" stroke-dasharray="3 2.4"/>
<line x1="319.46" y1="319.88" x2="325.65" y2="319.88" stroke="#c4c4c4" stroke-width="0.7" />
<line x1="319.46" y1="358.75" x2="325.65" y2="358.75" stroke="#c4c4c4" stroke-width="0.7" />
<rect x="316.36" y="332.75" width="12.38" height="10.55" fill="none" stroke="#c4c4c4" stroke-width="0.8"/>
<line x1="316.36" y1="335.84" x2="328.74" y2="335.84" stroke="#c4c4c4" stroke-width="1.4" />
<line x1="338.03" y1="386.81" x2="338.03" y2="372.65" stroke="#c4c4c4" stroke-width="0.7" stroke-dasharray="3 2.4"/>
<line x1="338.03" y1="396.33" x2="338.03" y2="405.60" stroke="#c4c4c4" stroke-width="0.7" stroke-dasharray="3 2.4"/>
<line x1="334.93" y1="372.65" x2="341.12" y2="372.65" stroke="#c4c4c4" stroke-width="0.7" />
<line x1="334.93" y1="405.60" x2="341.12" y2="405.60" stroke="#c4c4c4" stroke-width="0.7" />
<rect x="331.84" y="386.81" width="12.38" height="9.52" fill="none" stroke="#c4c4c4" stroke-width="0.8"/>
<line x1="331.84" y1="391.44" x2="344.22" y2="391.44" stroke="#c4c4c4" stroke-width="1.4" />
<line x1="353.50" y1="406.37" x2="353.50" y2="405.34" stroke="#c4c4c4" stroke-width="0.7" stroke-dasharray="3 2.4"/>
<line x1="353.50" y1="407.40" x2="353.50" y2="407.40" stroke="#c4c4c4" stroke-width="0.7" stroke-dasharray="3 2.4"/>
<line x1="350.41" y1="405.34" x2="356.59" y2="405.34" stroke="#c4c4c4" stroke-width="0.7" />
<line x1="350.41" y1="407.40" x2="356.59" y2="407.40" stroke="#c4c4c4" stroke-width="0.7" />
<rect x="347.31" y="406.37" width="12.38" height="1.03" fill="none" stroke="#c4c4c4" stroke-width="0.8"/>
<line x1="347.31" y1="406.89" x2="359.69" y2="406.89" stroke="#c4c4c4" stroke-width="1.4" />
<line x1="368.97" y1="407.40" x2="368.97" y2="407.40" stroke="#c4c4c4" stroke-width="0.7" stroke-dasharray="3 2.4"/>
<line x1="368.97" y1="407.40" x2="368.97" y2="407.40" stroke="#c4c4c4" stroke-width="0.7" stroke-dasharray="3 2.4"/>
<line x1="365.88" y1="407.40" x2="372.07" y2="407.40" stroke="#c4c4c4" stroke-width="0.7" />
<line x1="365.88" y1="407.40" x2="372.07" y2="407.40" stroke="#c4c4c4" stroke-width="0.7" />
<rect x="362.78" y="407.40" width="12.38" height="0.30" fill="none" stroke="#c4c4c4" stroke-width="0.8"/>
<line x1="362.78" y1="407.40" x2="375.16" y2="407.40" stroke="#c4c4c4" stroke-width="1.4" />
<line x1="384.45" y1="407.40" x2="384.45" y2="407.40" stroke="#c4c4c4" stroke-width="0.7" stroke-dasharray="3 2.4"/>
<line x1="384.45" y1="407.40" x2="384.45" y2="407.40" stroke="#c4c4c4" stroke-width="0.7" stroke-dasharray="3 2.4"/>
<line x1="381.35" y1="407.40" x2="387.54" y2="407.40" stroke="#c4c4c4" stroke-width="0.7" />
<line x1="381.35" y1="407.40" x2="387.54" y2="407.40" stroke="#c4c4c4" stroke-width="0.7" />
<rect x="378.26" y="407.40" width="12.38" height="0.30" fill="none" stroke="#c4c4c4" stroke-width="0.8"/>
<line x1="378.26" y1="407.40" x2="390.64" y2="407.40" stroke="#c4c4c4" stroke-width="1.4" />
<line x1="399.92" y1="407.40" x2="399.92" y2="407.40" stroke="#c4c4c4" stroke-width="0.7" stroke-dasharray="3 2.4"/>
<line x1="399.92" y1="407.40" x2="399.92" y2="407.40" stroke="#c4c4c4" stroke-width="0.7" stroke-dasharray="3 2.4"/>
<line x1="396.83" y1="407.40" x2="403.01" y2="407.40" stroke="#c4c4c4" stroke-width="0.7" />
<line x1="396.83" y1="407.40" x2="403.01" y2="407.40" stroke="#c4c4c4" stroke-width="0.7" />
<rect x="393.73" y="407.40" width="12.38" height="0.30" fill="none" stroke="#c4c4c4" stroke-width="0.8"/>
<line x1="393.73" y1="407.40" x2="406.11" y2="407.40" stroke="#c4c4c4" stroke-width="1.4" />
<line x1="415.39" y1="325.03" x2="415.39" y2="273.04" stroke="#c4c4c4" stroke-width="0.7" stroke-dasharray="3 2.4"/>
<line x1="415.39" y1="363.64" x2="415.39" y2="407.40" stroke="#c4c4c4" stroke-width="0.7" stroke-dasharray="3 2.4"/>
<line x1="412.30" y1="273.04" x2="418.49" y2="273.04" stroke="#c4c4c4" stroke-width="0.7" />
<line x1="412.30" y1="407.40" x2="418.49" y2="407.40" stroke="#c4c4c4" stroke-width="0.7" />
<rect x="409.20" y="325.03" width="12.38" height="38.61" fill="none" stroke="#c4c4c4" stroke-width="0.8"/>
<line x1="409.20" y1="343.69" x2="421.58" y2="343.69" stroke="#c4c4c4" stroke-width="1.4" />
<polyline points="291.61,383.54 307.08,321.56 322.55,337.64 338.03,386.29 353.50,404.67 368.97,407.40 384.45,407.40 399.92,407.40 415.39,353.71" fill="none" stroke="#0a0a0a" stroke-width="1.75" stroke-linejoin="round" stroke-linecap="round"/>
<rect x="278.30" y="268.00" width="150.40" height="144.40" fill="none" stroke="#2a2a2a" stroke-width="1"/>
<line x1="272.60" y1="407.40" x2="278.30" y2="407.40" stroke="#2a2a2a" stroke-width="1" />
<line x1="272.60" y1="381.66" x2="278.30" y2="381.66" stroke="#2a2a2a" stroke-width="1" />
<line x1="272.60" y1="355.92" x2="278.30" y2="355.92" stroke="#2a2a2a" stroke-width="1" />
<line x1="272.60" y1="330.18" x2="278.30" y2="330.18" stroke="#2a2a2a" stroke-width="1" />
<line x1="272.60" y1="304.44" x2="278.30" y2="304.44" stroke="#2a2a2a" stroke-width="1" />
<line x1="272.60" y1="278.70" x2="278.30" y2="278.70" stroke="#2a2a2a" stroke-width="1" />
<line x1="291.61" y1="412.40" x2="291.61" y2="418.10" stroke="#2a2a2a" stroke-width="1" />
<line x1="307.08" y1="412.40" x2="307.08" y2="418.10" stroke="#2a2a2a" stroke-width="1" />
<line x1="322.55" y1="412.40" x2="322.55" y2="418.10" stroke="#2a2a2a" stroke-width="1" />
<line x1="338.03" y1="412.40" x2="338.03" y2="418.10" stroke="#2a2a2a" stroke-width="1" />
<line x1="353.50" y1="412.40" x2="353.50" y2="418.10" stroke="#2a2a2a" stroke-width="1" />
<line x1="368.97" y1="412.40" x2="368.97" y2="418.10" stroke="#2a2a2a" stroke-width="1" />
<line x1="384.45" y1="412.40" x2="384.45" y2="418.10" stroke="#2a2a2a" stroke-width="1" />
<line x1="399.92" y1="412.40" x2="399.92" y2="418.10" stroke="#2a2a2a" stroke-width="1" />
<line x1="415.39" y1="412.40" x2="415.39" y2="418.10" stroke="#2a2a2a" stroke-width="1" />
<line x1="517.37" y1="281.95" x2="517.37" y2="273.04" stroke="#c4c4c4" stroke-width="0.7" stroke-dasharray="3 2.4"/>
<line x1="517.37" y1="285.76" x2="517.37" y2="287.35" stroke="#c4c4c4" stroke-width="0.7" stroke-dasharray="3 2.4"/>
<line x1="515.05" y1="273.04" x2="519.69" y2="273.04" stroke="#c4c4c4" stroke-width="0.7" />
<line x1="515.05" y1="287.35" x2="519.69" y2="287.35" stroke="#c4c4c4" stroke-width="0.7" />
<rect x="512.73" y="281.95" width="9.28" height="3.82" fill="none" stroke="#c4c4c4" stroke-width="0.8"/>
<line x1="512.73" y1="283.86" x2="522.01" y2="283.86" stroke="#c4c4c4" stroke-width="1.4" />
<line x1="528.98" y1="407.40" x2="528.98" y2="407.40" stroke="#c4c4c4" stroke-width="0.7" stroke-dasharray="3 2.4"/>
<line x1="528.98" y1="407.40" x2="528.98" y2="407.40" stroke="#c4c4c4" stroke-width="0.7" stroke-dasharray="3 2.4"/>
<line x1="526.66" y1="407.40" x2="531.30" y2="407.40" stroke="#c4c4c4" stroke-width="0.7" />
<line x1="526.66" y1="407.40" x2="531.30" y2="407.40" stroke="#c4c4c4" stroke-width="0.7" />
<rect x="524.34" y="407.40" width="9.28" height="0.30" fill="none" stroke="#c4c4c4" stroke-width="0.8"/>
<line x1="524.34" y1="407.40" x2="533.62" y2="407.40" stroke="#c4c4c4" stroke-width="1.4" />
<line x1="540.58" y1="375.60" x2="540.58" y2="369.56" stroke="#c4c4c4" stroke-width="0.7" stroke-dasharray="3 2.4"/>
<line x1="540.58" y1="378.94" x2="540.58" y2="380.37" stroke="#c4c4c4" stroke-width="0.7" stroke-dasharray="3 2.4"/>
<line x1="538.26" y1="369.56" x2="542.90" y2="369.56" stroke="#c4c4c4" stroke-width="0.7" />
<line x1="538.26" y1="380.37" x2="542.90" y2="380.37" stroke="#c4c4c4" stroke-width="0.7" />
<rect x="535.94" y="375.60" width="9.28" height="3.34" fill="none" stroke="#c4c4c4" stroke-width="0.8"/>
<line x1="535.94" y1="377.27" x2="545.22" y2="377.27" stroke="#c4c4c4" stroke-width="1.4" />
<line x1="552.19" y1="407.40" x2="552.19" y2="407.40" stroke="#c4c4c4" stroke-width="0.7" stroke-dasharray="3 2.4"/>
<line x1="552.19" y1="407.40" x2="552.19" y2="407.40" stroke="#c4c4c4" stroke-width="0.7" stroke-dasharray="3 2.4"/>
<line x1="549.87" y1="407.40" x2="554.51" y2="407.40" stroke="#c4c4c4" stroke-width="0.7" />
<line x1="549.87" y1="407.40" x2="554.51" y2="407.40" stroke="#c4c4c4" stroke-width="0.7" />
<rect x="547.55" y="407.40" width="9.28" height="0.30" fill="none" stroke="#c4c4c4" stroke-width="0.8"/>
<line x1="547.55" y1="407.40" x2="556.83" y2="407.40" stroke="#c4c4c4" stroke-width="1.4" />
<line x1="633.42" y1="400.25" x2="633.42" y2="397.06" stroke="#c4c4c4" stroke-width="0.7" stroke-dasharray="3 2.4"/>
<line x1="633.42" y1="404.22" x2="633.42" y2="407.40" stroke="#c4c4c4" stroke-width="0.7" stroke-dasharray="3 2.4"/>
<line x1="631.10" y1="397.06" x2="635.74" y2="397.06" stroke="#c4c4c4" stroke-width="0.7" />
<line x1="631.10" y1="407.40" x2="635.74" y2="407.40" stroke="#c4c4c4" stroke-width="0.7" />
<rect x="628.78" y="400.25" width="9.28" height="3.97" fill="none" stroke="#c4c4c4" stroke-width="0.8"/>
<line x1="628.78" y1="402.23" x2="638.06" y2="402.23" stroke="#c4c4c4" stroke-width="1.4" />
<line x1="645.03" y1="407.40" x2="645.03" y2="407.40" stroke="#c4c4c4" stroke-width="0.7" stroke-dasharray="3 2.4"/>
<line x1="645.03" y1="407.40" x2="645.03" y2="407.40" stroke="#c4c4c4" stroke-width="0.7" stroke-dasharray="3 2.4"/>
<line x1="642.71" y1="407.40" x2="647.35" y2="407.40" stroke="#c4c4c4" stroke-width="0.7" />
<line x1="642.71" y1="407.40" x2="647.35" y2="407.40" stroke="#c4c4c4" stroke-width="0.7" />
<rect x="640.39" y="407.40" width="9.28" height="0.30" fill="none" stroke="#c4c4c4" stroke-width="0.8"/>
<line x1="640.39" y1="407.40" x2="649.67" y2="407.40" stroke="#c4c4c4" stroke-width="1.4" />
<polyline points="517.37,284.72 528.98,407.40 540.58,376.87 552.19,407.40 563.79,407.40 575.40,407.40 587.00,407.40 598.61,407.40 610.21,407.40 621.82,407.40 633.42,400.64 645.03,407.40" fill="none" stroke="#0a0a0a" stroke-width="1.75" stroke-linejoin="round" stroke-linecap="round"/>
<rect x="506.00" y="268.00" width="150.40" height="144.40" fill="none" stroke="#2a2a2a" stroke-width="1"/>
<line x1="500.30" y1="407.40" x2="506.00" y2="407.40" stroke="#2a2a2a" stroke-width="1" />
<line x1="500.30" y1="375.60" x2="506.00" y2="375.60" stroke="#2a2a2a" stroke-width="1" />
<line x1="500.30" y1="343.80" x2="506.00" y2="343.80" stroke="#2a2a2a" stroke-width="1" />
<line x1="500.30" y1="312.00" x2="506.00" y2="312.00" stroke="#2a2a2a" stroke-width="1" />
<line x1="500.30" y1="280.20" x2="506.00" y2="280.20" stroke="#2a2a2a" stroke-width="1" />
<line x1="517.37" y1="412.40" x2="517.37" y2="418.10" stroke="#2a2a2a" stroke-width="1" />
<line x1="528.98" y1="412.40" x2="528.98" y2="418.10" stroke="#2a2a2a" stroke-width="1" />
<line x1="540.58" y1="412.40" x2="540.58" y2="418.10" stroke="#2a2a2a" stroke-width="1" />
<line x1="552.19" y1="412.40" x2="552.19" y2="418.10" stroke="#2a2a2a" stroke-width="1" />
<line x1="563.79" y1="412.40" x2="563.79" y2="418.10" stroke="#2a2a2a" stroke-width="1" />
<line x1="575.40" y1="412.40" x2="575.40" y2="418.10" stroke="#2a2a2a" stroke-width="1" />
<line x1="587.00" y1="412.40" x2="587.00" y2="418.10" stroke="#2a2a2a" stroke-width="1" />
<line x1="598.61" y1="412.40" x2="598.61" y2="418.10" stroke="#2a2a2a" stroke-width="1" />
<line x1="610.21" y1="412.40" x2="610.21" y2="418.10" stroke="#2a2a2a" stroke-width="1" />
<line x1="621.82" y1="412.40" x2="621.82" y2="418.10" stroke="#2a2a2a" stroke-width="1" />
<line x1="633.42" y1="412.40" x2="633.42" y2="418.10" stroke="#2a2a2a" stroke-width="1" />
<line x1="645.03" y1="412.40" x2="645.03" y2="418.10" stroke="#2a2a2a" stroke-width="1" />
<g filter="url(#w)">
<text transform="translate(43.50 171.20) scale(1.047 1)" text-anchor="end" font-size="10.0">0.0</text>
<text transform="translate(43.50 133.00) scale(1.047 1)" text-anchor="end" font-size="10.0">0.2</text>
<text transform="translate(43.50 94.80) scale(1.047 1)" text-anchor="end" font-size="10.0">0.4</text>
<text transform="translate(43.50 56.60) scale(1.047 1)" text-anchor="end" font-size="10.0">0.6</text>
<text transform="translate(64.75 192.20) scale(1.047 1)" text-anchor="middle" font-size="10.0">0</text>
<text transform="translate(78.66 192.20) scale(1.047 1)" text-anchor="middle" font-size="10.0">2</text>
<text transform="translate(92.58 192.20) scale(1.047 1)" text-anchor="middle" font-size="10.0">4</text>
<text transform="translate(106.50 192.20) scale(1.047 1)" text-anchor="middle" font-size="10.0">6</text>
<text transform="translate(120.41 192.20) scale(1.047 1)" text-anchor="middle" font-size="10.0">8</text>
<text transform="translate(141.29 192.20) scale(1.047 1)" text-anchor="middle" font-size="10.0">11</text>
<text transform="translate(162.16 192.20) scale(1.047 1)" text-anchor="middle" font-size="10.0">14</text>
<text transform="translate(183.04 192.20) scale(1.047 1)" text-anchor="middle" font-size="10.0">17</text>
<text transform="translate(125.00 8.70) scale(1.038 1)" text-anchor="middle" font-size="10.0" font-weight="bold">Dyad−wise shared partners</text>
<text transform="translate(131.00 212.30) scale(1.047 1)" text-anchor="middle" font-size="10.0">Dyad−wise shared</text>
<text transform="translate(130.70 224.70) scale(1.047 1)" text-anchor="middle" font-size="10.0">partners</text>
<text transform="translate(266.30 151.80) scale(1.047 1)" text-anchor="end" font-size="10.0">0.0</text>
<text transform="translate(266.30 118.60) scale(1.047 1)" text-anchor="end" font-size="10.0">0.2</text>
<text transform="translate(266.30 85.40) scale(1.047 1)" text-anchor="end" font-size="10.0">0.4</text>
<text transform="translate(266.30 52.20) scale(1.047 1)" text-anchor="end" font-size="10.0">0.6</text>
<text transform="translate(287.55 192.20) scale(1.047 1)" text-anchor="middle" font-size="10.0">0</text>
<text transform="translate(301.48 192.20) scale(1.047 1)" text-anchor="middle" font-size="10.0">2</text>
<text transform="translate(315.40 192.20) scale(1.047 1)" text-anchor="middle" font-size="10.0">4</text>
<text transform="translate(329.33 192.20) scale(1.047 1)" text-anchor="middle" font-size="10.0">6</text>
<text transform="translate(343.26 192.20) scale(1.047 1)" text-anchor="middle" font-size="10.0">8</text>
<text transform="translate(364.14 192.20) scale(1.047 1)" text-anchor="middle" font-size="10.0">11</text>
<text transform="translate(385.03 192.20) scale(1.047 1)" text-anchor="middle" font-size="10.0">14</text>
<text transform="translate(405.92 192.20) scale(1.047 1)" text-anchor="middle" font-size="10.0">17</text>
<text transform="translate(353.60 8.70) scale(1.038 1)" text-anchor="middle" font-size="10.0" font-weight="bold">Non−edge−wise shared</text>
<text transform="translate(354.00 21.60) scale(1.038 1)" text-anchor="middle" font-size="10.0" font-weight="bold">partners</text>
<text transform="translate(353.70 212.30) scale(1.047 1)" text-anchor="middle" font-size="10.0">Non−edge−wise shared</text>
<text transform="translate(353.60 224.70) scale(1.047 1)" text-anchor="middle" font-size="10.0">partners</text>
<text transform="translate(494.10 171.10) scale(1.047 1)" text-anchor="end" font-size="10.0">0.00</text>
<text transform="translate(494.10 127.00) scale(1.047 1)" text-anchor="end" font-size="10.0">0.10</text>
<text transform="translate(494.10 82.90) scale(1.047 1)" text-anchor="end" font-size="10.0">0.20</text>
<text transform="translate(494.10 38.80) scale(1.047 1)" text-anchor="end" font-size="10.0">0.30</text>
<text transform="translate(514.11 192.20) scale(1.047 1)" text-anchor="middle" font-size="10.0">0</text>
<text transform="translate(527.58 192.20) scale(1.047 1)" text-anchor="middle" font-size="10.0">3</text>
<text transform="translate(541.05 192.20) scale(1.047 1)" text-anchor="middle" font-size="10.0">6</text>
<text transform="translate(554.51 192.20) scale(1.047 1)" text-anchor="middle" font-size="10.0">9</text>
<text transform="translate(572.47 192.20) scale(1.047 1)" text-anchor="middle" font-size="10.0">13</text>
<text transform="translate(590.43 192.20) scale(1.047 1)" text-anchor="middle" font-size="10.0">17</text>
<text transform="translate(608.39 192.20) scale(1.047 1)" text-anchor="middle" font-size="10.0">21</text>
<text transform="translate(626.34 192.20) scale(1.047 1)" text-anchor="middle" font-size="10.0">25</text>
<text transform="translate(644.30 192.20) scale(1.047 1)" text-anchor="middle" font-size="10.0">29</text>
<text transform="translate(579.60 8.70) scale(1.038 1)" text-anchor="middle" font-size="10.0" font-weight="bold">Degree</text>
<text transform="translate(583.80 212.40) scale(1.047 1)" text-anchor="middle" font-size="10.0">Degree</text>
<text transform="translate(43.60 408.90) scale(1.047 1)" text-anchor="end" font-size="10.0">0.00</text>
<text transform="translate(43.60 377.50) scale(1.047 1)" text-anchor="end" font-size="10.0">0.05</text>
<text transform="translate(43.60 346.10) scale(1.047 1)" text-anchor="end" font-size="10.0">0.10</text>
<text transform="translate(43.60 314.70) scale(1.047 1)" text-anchor="end" font-size="10.0">0.15</text>
<text transform="translate(43.60 283.30) scale(1.047 1)" text-anchor="end" font-size="10.0">0.20</text>
<text transform="translate(63.60 431.70) scale(1.047 1)" text-anchor="middle" font-size="10.0">0</text>
<text transform="translate(77.04 431.70) scale(1.047 1)" text-anchor="middle" font-size="10.0">3</text>
<text transform="translate(90.48 431.70) scale(1.047 1)" text-anchor="middle" font-size="10.0">6</text>
<text transform="translate(103.92 431.70) scale(1.047 1)" text-anchor="middle" font-size="10.0">9</text>
<text transform="translate(121.84 431.70) scale(1.047 1)" text-anchor="middle" font-size="10.0">13</text>
<text transform="translate(139.76 431.70) scale(1.047 1)" text-anchor="middle" font-size="10.0">17</text>
<text transform="translate(157.68 431.70) scale(1.047 1)" text-anchor="middle" font-size="10.0">21</text>
<text transform="translate(175.60 431.70) scale(1.047 1)" text-anchor="middle" font-size="10.0">25</text>
<text transform="translate(193.52 431.70) scale(1.047 1)" text-anchor="middle" font-size="10.0">29</text>
<text transform="translate(128.90 260.60) scale(1.038 1)" text-anchor="middle" font-size="10.0" font-weight="bold">k−star</text>
<text transform="translate(132.70 452.40) scale(1.047 1)" text-anchor="middle" font-size="10.0">k−star</text>
<text transform="translate(266.30 410.60) scale(1.047 1)" text-anchor="end" font-size="10.0">0.0</text>
<text transform="translate(266.30 384.86) scale(1.047 1)" text-anchor="end" font-size="10.0">0.1</text>
<text transform="translate(266.30 359.12) scale(1.047 1)" text-anchor="end" font-size="10.0">0.2</text>
<text transform="translate(266.30 333.38) scale(1.047 1)" text-anchor="end" font-size="10.0">0.3</text>
<text transform="translate(266.30 307.64) scale(1.047 1)" text-anchor="end" font-size="10.0">0.4</text>
<text transform="translate(266.30 281.90) scale(1.047 1)" text-anchor="end" font-size="10.0">0.5</text>
<text transform="translate(291.81 431.70) scale(1.047 1)" text-anchor="middle" font-size="10.0">1</text>
<text transform="translate(307.28 431.70) scale(1.047 1)" text-anchor="middle" font-size="10.0">2</text>
<text transform="translate(322.75 431.70) scale(1.047 1)" text-anchor="middle" font-size="10.0">3</text>
<text transform="translate(338.23 431.70) scale(1.047 1)" text-anchor="middle" font-size="10.0">4</text>
<text transform="translate(353.70 431.70) scale(1.047 1)" text-anchor="middle" font-size="10.0">5</text>
<text transform="translate(369.17 431.70) scale(1.047 1)" text-anchor="middle" font-size="10.0">6</text>
<text transform="translate(384.65 431.70) scale(1.047 1)" text-anchor="middle" font-size="10.0">7</text>
<text transform="translate(400.12 431.70) scale(1.047 1)" text-anchor="middle" font-size="10.0">8</text>
<text transform="translate(415.99 431.70) scale(0.97 1)" text-anchor="middle" font-size="10.0">Inf</text>
<text transform="translate(349.60 260.20) scale(1.038 1)" text-anchor="middle" font-size="10.0" font-weight="bold">Geodesic distances</text>
<text transform="translate(359.20 452.40) scale(1.047 1)" text-anchor="middle" font-size="10.0">Geodesic distances</text>
<text transform="translate(494.00 410.30) scale(1.047 1)" text-anchor="end" font-size="10.0">0.0</text>
<text transform="translate(494.00 378.50) scale(1.047 1)" text-anchor="end" font-size="10.0">0.2</text>
<text transform="translate(494.00 346.70) scale(1.047 1)" text-anchor="end" font-size="10.0">0.4</text>
<text transform="translate(494.00 314.90) scale(1.047 1)" text-anchor="end" font-size="10.0">0.6</text>
<text transform="translate(494.00 283.10) scale(1.047 1)" text-anchor="end" font-size="10.0">0.8</text>
<text transform="translate(518.57 431.70) scale(1.047 1)" text-anchor="middle" font-size="10.0">003</text>
<text transform="translate(541.96 431.70) scale(1.047 1)" text-anchor="middle" font-size="10.0">102</text>
<text transform="translate(577.05 431.70) scale(1.047 1)" text-anchor="middle" font-size="10.0">021C</text>
<text transform="translate(612.13 431.70) scale(1.047 1)" text-anchor="middle" font-size="10.0">030T</text>
<text transform="translate(647.22 431.70) scale(1.047 1)" text-anchor="middle" font-size="10.0">120D</text>
<text transform="translate(578.80 260.20) scale(1.038 1)" text-anchor="middle" font-size="10.0" font-weight="bold">Triad census</text>
<text transform="translate(585.80 452.40) scale(1.047 1)" text-anchor="middle" font-size="10.0">Triad census</text>
</g>
<text transform="translate(9.20 110.80) rotate(-90) scale(1.06 1)" text-anchor="middle" font-size="9.8" class="r">Frequency</text>
<text transform="translate(237.40 110.50) rotate(-90) scale(1.06 1)" text-anchor="middle" font-size="9.8" class="r">Frequency</text>
<text transform="translate(459.90 97.50) rotate(-90) scale(1.06 1)" text-anchor="middle" font-size="9.8" class="r">Frequency</text>
<text transform="translate(9.10 334.60) rotate(-90) scale(1.06 1)" text-anchor="middle" font-size="9.8" class="r">Frequency</text>
<text transform="translate(237.40 350.50) rotate(-90) scale(1.06 1)" text-anchor="middle" font-size="9.8" class="r">Frequency</text>
<text transform="translate(460.30 336.70) rotate(-90) scale(1.06 1)" text-anchor="middle" font-size="9.8" class="r">Frequency</text>
</svg>
</body></html>
